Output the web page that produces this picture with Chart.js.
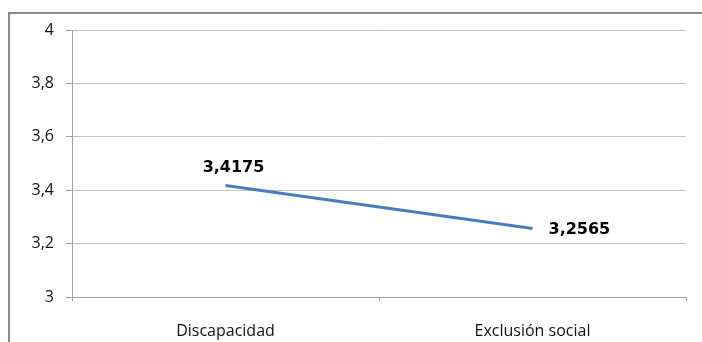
<!DOCTYPE html>
<html>
<head>
<meta charset="utf-8">
<script src="https://cdn.jsdelivr.net/npm/chart.js@4.4.1/dist/chart.umd.min.js"></script>
<style>
html,body{margin:0;padding:0;background:#fff;}
#wrap{width:702px;height:342px;position:relative;}
</style>
</head>
<body>
<div id="wrap"><canvas id="c" width="702" height="342"></canvas></div>
<script>
const categories = ["Discapacidad", "Exclusión social"];
const values = [3.4175, 3.2565];
const valueLabels = ["3,4175", "3,2565"];
const yMin = 3, yMax = 4, yStep = 0.2;

const framePlugin = {
  id: 'frame',
  beforeDraw(chart) {
    const ctx = chart.ctx;
    ctx.save();
    ctx.fillStyle = '#fff';
    ctx.fillRect(0, 0, chart.width, chart.height);
    ctx.strokeStyle = '#8a8a8a';
    ctx.lineWidth = 2;
    ctx.beginPath();
    ctx.moveTo(9, chart.height);
    ctx.lineTo(9, 13);
    ctx.lineTo(chart.width, 13);
    ctx.stroke();
    ctx.restore();
  }
};

const labelPlugin = {
  id: 'valueLabels',
  afterDatasetsDraw(chart) {
    const ctx = chart.ctx;
    const pts = chart.getDatasetMeta(0).data;
    ctx.save();
    ctx.font = 'bold 16px "DejaVu Sans"';
    ctx.fillStyle = '#000';
    ctx.textBaseline = 'middle';
    ctx.textAlign = 'center';
    ctx.fillText(valueLabels[0], pts[0].x + 8, pts[0].y - 18);
    ctx.textAlign = 'left';
    ctx.fillText(valueLabels[1], pts[1].x + 16, pts[1].y + 1);
    ctx.restore();
  }
};

new Chart(document.getElementById('c'), {
  type: 'line',
  data: {
    labels: categories,
    datasets: [{
      data: values,
      borderColor: '#4a7ebb',
      borderWidth: 3,
      pointRadius: 0,
      pointHoverRadius: 0,
      tension: 0,
      fill: false
    }]
  },
  options: {
    responsive: false,
    animation: false,
    events: [],
    layout: { padding: { left: 0, top: 30, right: 16, bottom: 0 } },
    plugins: { legend: { display: false }, tooltip: { enabled: false } },
    scales: {
      x: {
        offset: true,
        afterFit(s) { s.height = 45; },
        grid: { display: true, drawOnChartArea: false, drawTicks: true, tickLength: 4, color: '#a0a0a0', offset: true },
        border: { color: '#a0a0a0', width: 1 },
        ticks: { font: { family: '"Open Sans"', size: 16 }, color: '#111', padding: 21, maxRotation: 0 }
      },
      y: {
        min: yMin, max: yMax,
        afterFit(s) { s.width = 72; },
        afterBuildTicks(s) {
          const t = [];
          for (let i = 0; i <= 5; i++) t.push({ value: +(yMin + i * yStep).toFixed(1) });
          s.ticks = t;
        },
        grid: { color: '#c4c4c4', tickLength: 6, drawTicks: true, tickColor: '#a0a0a0' },
        border: { color: '#a0a0a0', width: 1 },
        ticks: {
          font: { family: '"Open Sans"', size: 16 }, color: '#111', padding: 12,
          callback: v => String(+v.toFixed(1)).replace('.', ',')
        }
      }
    }
  },
  plugins: [framePlugin, labelPlugin]
});
</script>
</body>
</html>
